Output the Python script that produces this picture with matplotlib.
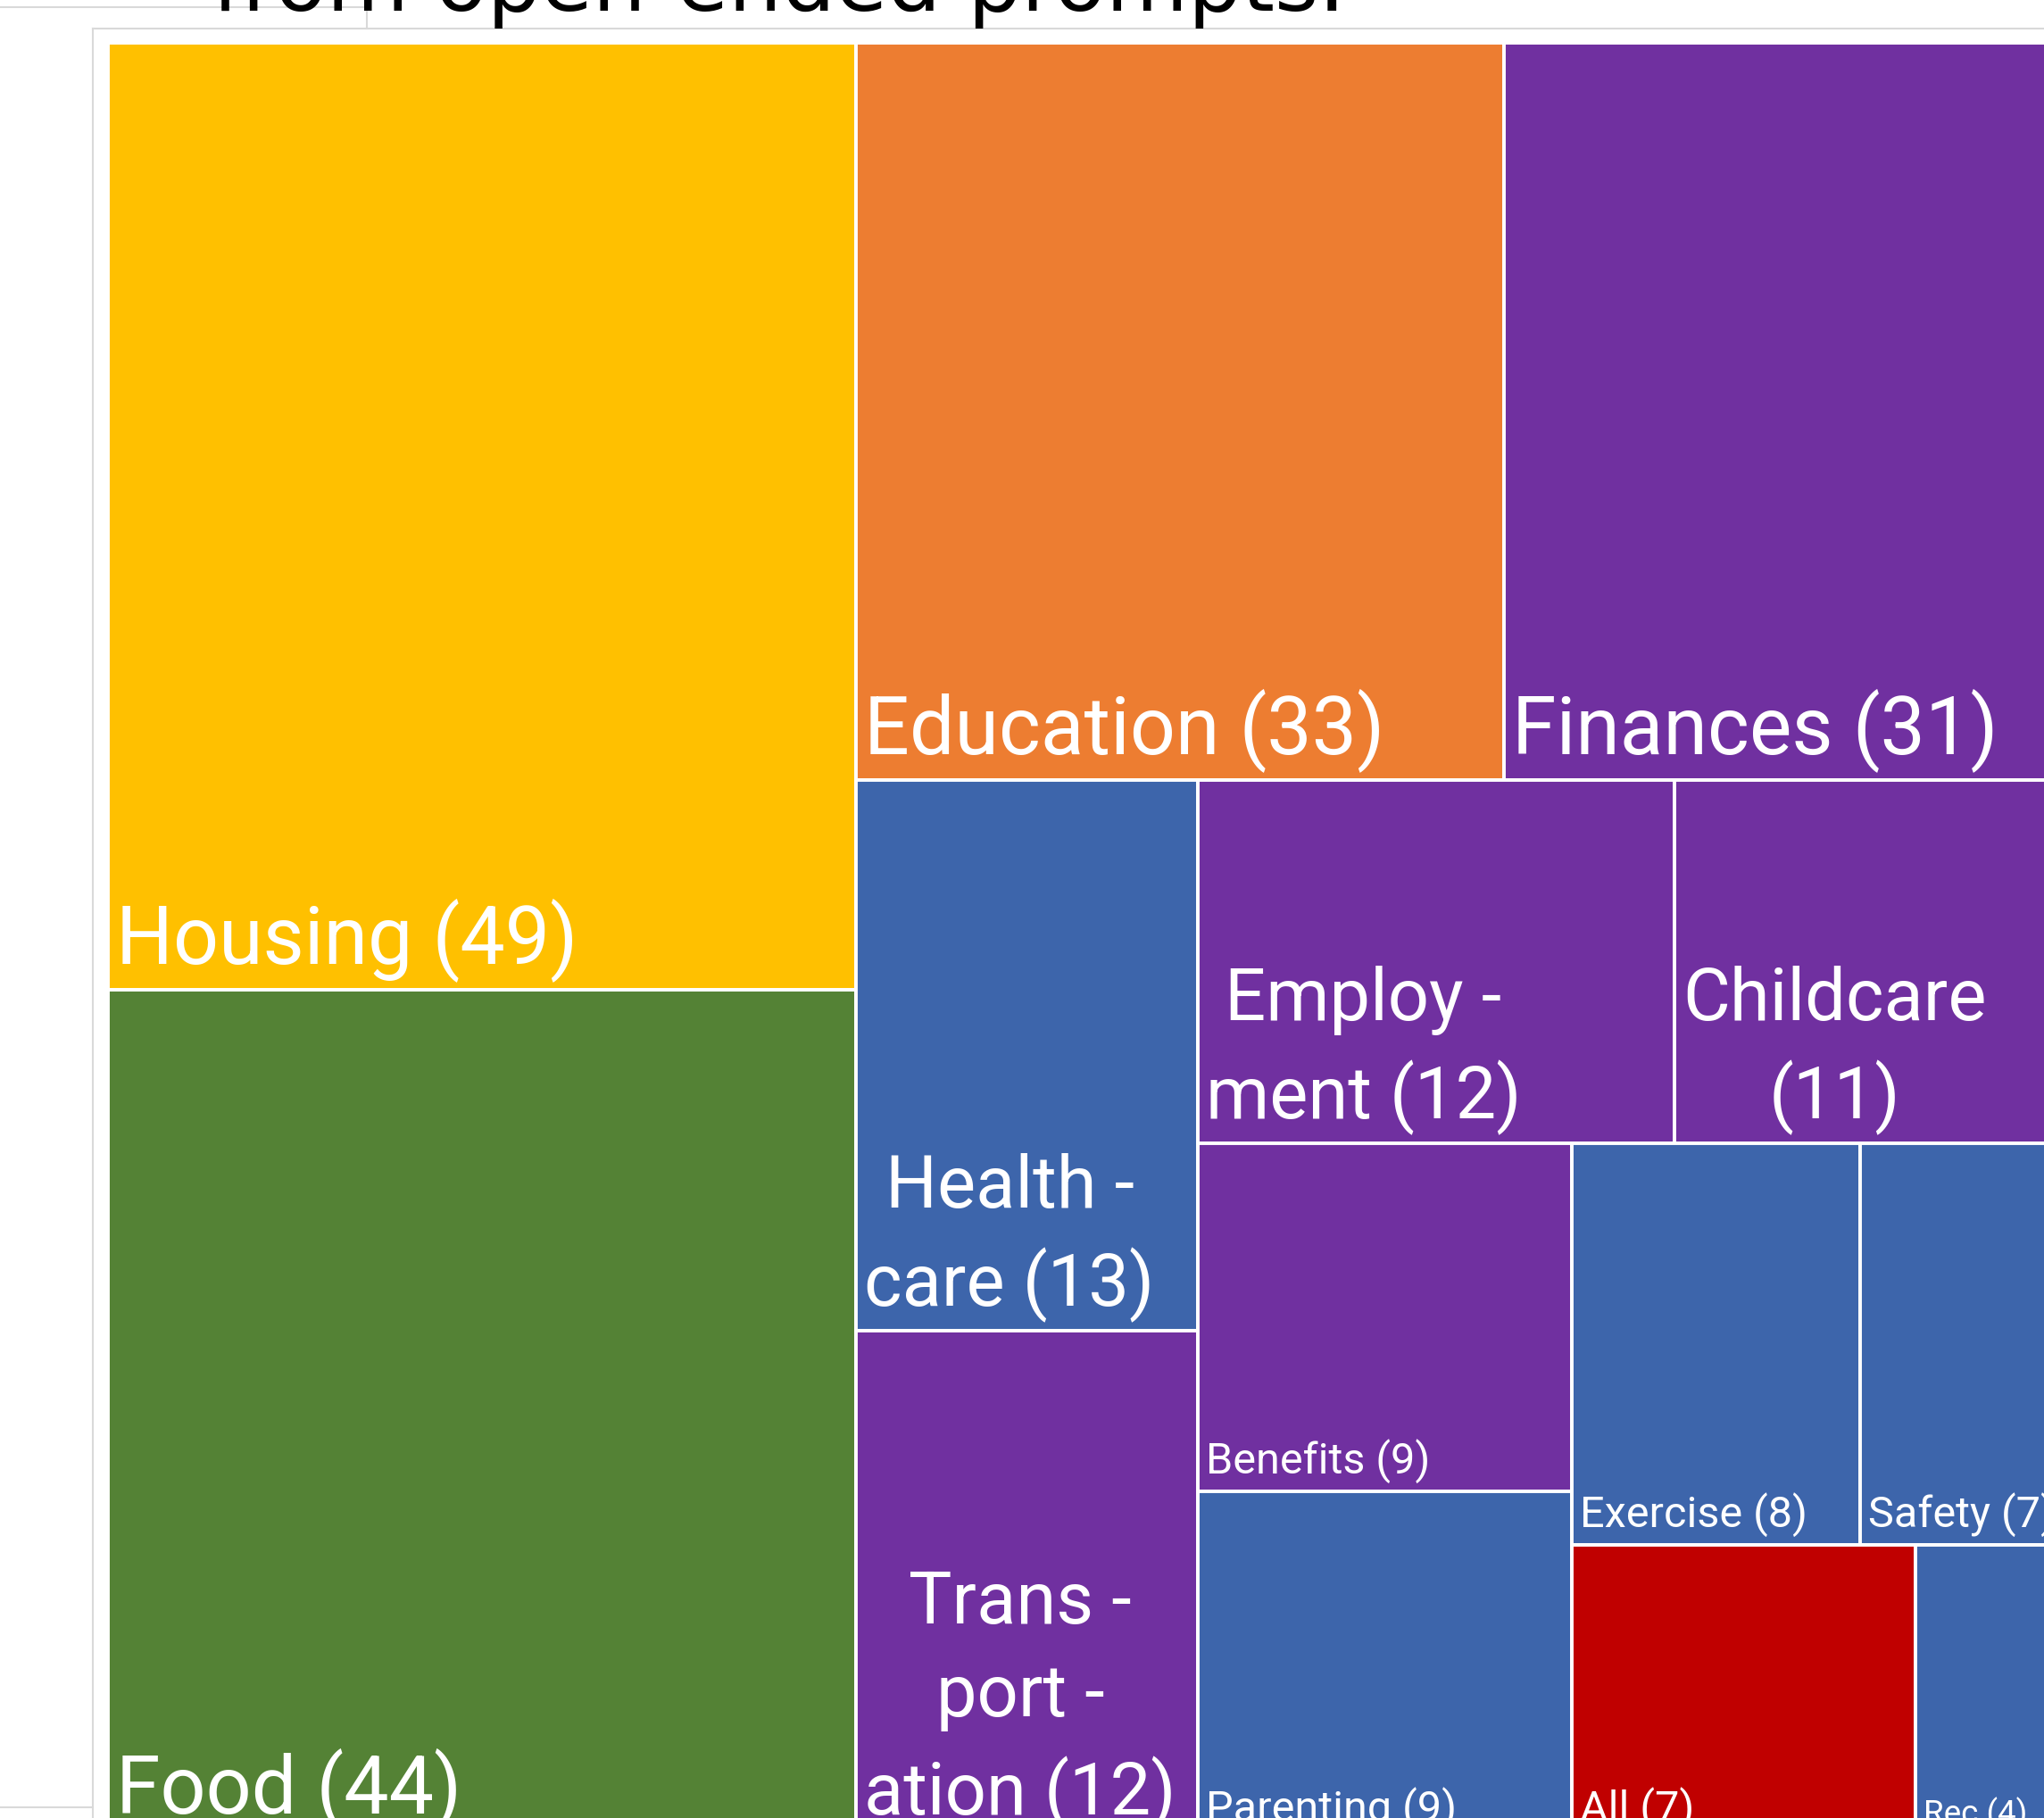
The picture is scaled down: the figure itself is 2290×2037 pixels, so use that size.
import matplotlib
matplotlib.use("Agg")
import matplotlib.pyplot as plt
from matplotlib.patches import Rectangle
from matplotlib.lines import Line2D

# treemap data (counts of themes from open-ended prompts)
categories = ["Housing", "Food", "Education", "Finances", "Health -\ncare",
              "Trans -\nport -\nation", "Employ -\nment", "Childcare\n",
              "Benefits", "Parenting", "Exercise", "Safety", "All", "Rec"]
counts = [49, 44, 33, 31, 13, 12, 12, 11, 9, 9, 8, 7, 7, 4]
groups = ["housing", "food", "education", "money", "health", "money", "money",
          "money", "money", "health", "health", "health", "all", "health"]

colors = {"housing": "#FFC000", "food": "#548235", "education": "#ED7D31",
          "money": "#7030A0", "health": "#3D65AB", "all": "#C00000"}
# label size tier per cell (points)
label_size = [64.5, 64.5, 64.5, 64.5, 58.5, 58.5, 58.5, 58.5, 35, 35, 35, 35, 35, 26.5]

FW, FH = 2290, 2037
DPI = 100


def squarify(values, x, y, w, h, max_per_strip=2):
    """squarified layout, strips limited to max_per_strip items"""
    rects = []
    vals = list(values)
    scale = w * h / sum(vals)
    areas = [v * scale for v in vals]
    i = 0
    while i < len(areas):
        side = min(w, h)

        def worst(strip):
            s = sum(strip)
            thick = s / side
            return max(max(thick / (a / thick), (a / thick) / thick) for a in strip)

        strip = [areas[i]]
        while (len(strip) < max_per_strip and i + len(strip) < len(areas)
               and worst(strip + [areas[i + len(strip)]]) <= worst(strip)):
            strip.append(areas[i + len(strip)])
        thick = sum(strip) / side
        if w >= h:  # column on the left
            yy = y
            for a in strip:
                rects.append((x, yy, thick, a / thick))
                yy += a / thick
            x += thick
            w -= thick
        else:  # row on top
            xx = x
            for a in strip:
                rects.append((xx, y, a / thick, thick))
                xx += a / thick
            y += thick
            h -= thick
        i += len(strip)
    return rects


fig = plt.figure(figsize=(FW / DPI, FH / DPI), dpi=DPI)
fig.patch.set_facecolor("white")


def px_line(x0, y0, x1, y1):
    fig.add_artist(Line2D([x0 / FW, x1 / FW], [1 - y0 / FH, 1 - y1 / FH],
                          transform=fig.transFigure, color="#D9D9D9", lw=1.5))


# screenshot frame lines
px_line(0, 8, 411, 8)
px_line(411, 8, 411, 32)
px_line(104, 32, FW, 32)
px_line(104, 32, 104, FH)
px_line(0, 2025, 104, 2025)

fig.text(238 / FW, 1 - 12 / FH, "from open-ended prompts.", fontsize=68,
         family="DejaVu Sans", color="black", ha="left", va="baseline")

TW, TH = 2245, 2013
ax = fig.add_axes([121 / FW, 1 - (48 + TH) / FH, TW / FW, TH / FH])
ax.set_xlim(0, TW)
ax.set_ylim(TH, 0)
ax.axis("off")

rects = squarify(counts, 0, 0, TW, TH)
for (x, y, w, h), name, n, g, fs in zip(rects, categories, counts, groups, label_size):
    ax.add_patch(Rectangle((x, y), w, h, facecolor=colors[g], edgecolor="white", lw=2.8))
    if name.endswith("\n"):
        label = f"{name}({n})"
    else:
        label = f"{name} ({n})"
    ax.text(x + 9, y + h - 9, label, color="white", fontsize=fs, family="Roboto",
            ha="left", va="bottom", multialignment="center",
            linespacing=1.42, clip_on=True)

fig.savefig("out.png", dpi=DPI)
